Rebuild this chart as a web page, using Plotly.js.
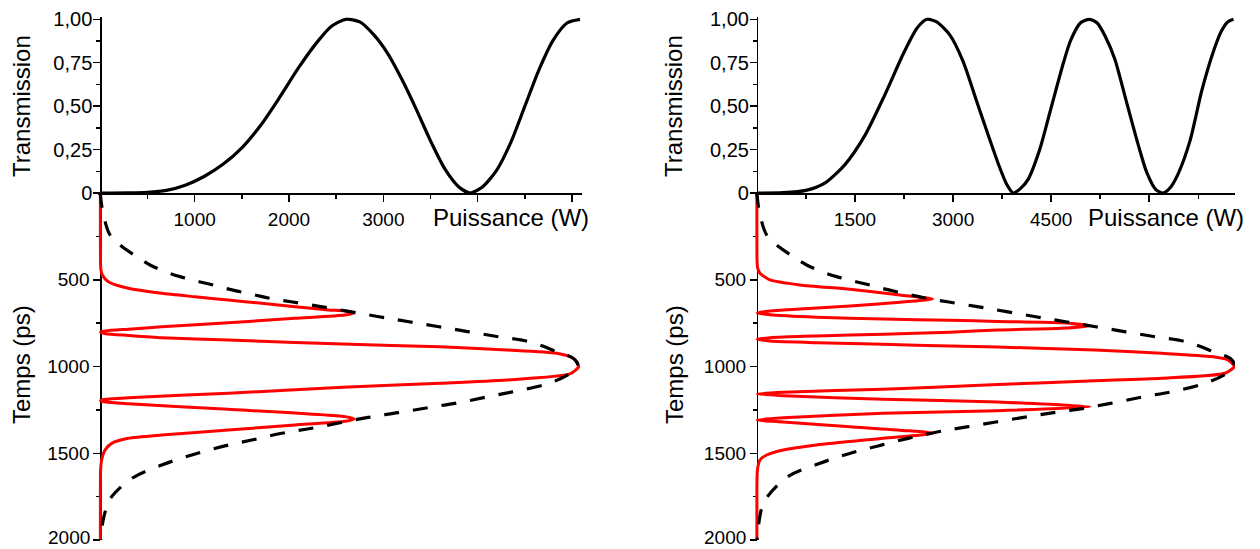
<!DOCTYPE html>
<html>
<head>
<meta charset="utf-8">
<script src="https://cdn.plot.ly/plotly-3.0.1.min.js"></script>
<style>html,body{margin:0;padding:0;background:#fff;}#chart{width:1260px;height:549px;}</style>
</head>
<body>
<div id="chart"></div>
<script>
// ---------- DATA ----------
// Transmission vs power, left panel
const leftTransP = [0,300,500,700,900,1100,1300,1500,1700,1900,2100,2300,2450,2600,2750,2900,3050,3200,3350,3500,3650,3800,3920,4050,4200,4350,4500,4650,4800,4950,5084];
const leftTransT = [0,0.001,0.004,0.015,0.045,0.095,0.165,0.26,0.39,0.55,0.72,0.87,0.96,1.0,0.985,0.91,0.8,0.65,0.48,0.3,0.14,0.035,0,0.035,0.13,0.29,0.5,0.71,0.88,0.98,1.0];
// Transmission vs power, right panel
const rightTransP = [0,400,750,1050,1350,1650,1950,2250,2450,2600,2750,2950,3150,3350,3550,3700,3820,3919,4030,4150,4325,4506,4688,4800,4950,5081,5200,5330,5474,5655,5837,5960,6100,6212,6330,6442,6623,6804,6986,7100,7200,7288];
const rightTransT = [0,0.002,0.015,0.06,0.165,0.33,0.56,0.81,0.95,1.0,0.985,0.91,0.76,0.54,0.32,0.16,0.05,0,0.025,0.08,0.25,0.5,0.75,0.88,0.98,1.0,0.98,0.9,0.77,0.52,0.27,0.12,0.02,0,0.035,0.11,0.3,0.59,0.82,0.93,0.985,1.0];

// Input pulse (dashed), left panel: time (ps) and power (W)
const leftInT = [0,60,130,242,300,367,415,453,482,505,526,549,569,588,607,627,655,713,742,771,800,829,857,915,960,1000,1050,1101,1141,1174,1209,1237,1266,1293,1356,1385,1424,1462,1510,1568,1645,1750,1808,1900,1961,2000];
const leftInP = [0,12,35,103,209,386,527,686,845,1004,1163,1322,1481,1640,1799,2021,2336,2954,3272,3590,3908,4226,4544,4837,5030,5062,4950,4731,4413,4112,3794,3476,3158,2840,2241,1923,1605,1287,969,651,333,121,68,25,12,5];
// Output pulse (red), left panel
const leftOutT = [0,200,400,440,473,511,549,578,598,617,636,655,674,680,692,703,722,748,771,785,795,803,811,821,834,847,861,871,886,905,924,953,1000,1043,1078,1097,1120,1154,1180,1189,1197,1205,1215,1247,1289,1302,1316,1337,1366,1395,1414,1443,1481,1539,1600,1800,2000];
const leftOutP = [0,0,2,6,21,85,297,651,1004,1357,1711,2064,2417,2594,2690,2594,2064,1357,651,297,55,2,55,297,651,1357,2064,2567,3600,4307,4837,5013,5070,4978,4307,3600,2570,1357,297,55,2,55,297,1357,2594,2690,2594,2064,1357,651,297,121,50,14,3,0,0];

// Input pulse (dashed), right panel
const rightInT = [0,60,130,242,300,367,415,453,482,505,526,549,569,588,607,627,655,713,742,771,800,829,857,915,960,1000,1050,1101,1145,1174,1209,1241,1266,1293,1347,1376,1414,1458,1504,1562,1635,1750,1808,1900,1961,2000];
const rightInP = [0,17,50,149,302,557,760,990,1219,1449,1678,1908,2137,2367,2596,2912,3370,4263,4721,5180,5639,6098,6557,6980,7260,7300,7140,6813,6352,5917,5457,4997,4537,4077,3233,2773,2313,1853,1393,933,472,160,80,30,12,4];
// Output pulse (red), right panel
const rightOutT = [0,200,380,430,463,501,530,555,588,611,630,651,669,680,691,702,716,726,734,740,748,765,780,789,803,814,824,834,843,853,863,872,882,888,905,924,943,963,1000,1039,1068,1082,1104,1131,1148,1158,1168,1189,1205,1232,1255,1270,1296,1308,1320,1347,1385,1414,1452,1481,1510,1539,1597,1700,2000];
const rightOutP = [0,0,2,10,47,200,659,1424,2188,2688,2188,1424,659,200,5,200,914,1933,2953,3680,4661,5094,4661,3680,2953,1933,914,200,5,200,914,1933,2953,3680,5170,6191,6955,7209,7300,7159,6191,5170,3680,1933,404,5,404,1933,3680,5094,3680,1933,404,5,404,1424,2688,1933,914,404,150,47,8,0,0];

// Tick labels
const transTickVals = [0,0.25,0.5,0.75,1];
const transTickText = ['0','0,25','0,50','0,75','1,00'];
const transMinor = [0.125,0.375,0.625,0.875];
const timeTickVals = [0,500,1000,1500,2000];
const timeTickText = ['','500','1000','1500','2000'];
const timeMinor = [250,750,1250,1750];
const leftPowTickVals = [0,1000,2000,3000,4000,5000];
const leftPowTickText = ['','1000','2000','3000','',''];
const leftPowMinor = [500,1500,2500,3500,4500];
const rightPowTickVals = [0,1500,3000,4500,6000];
const rightPowTickText = ['','1500','3000','4500',''];
const rightPowMinor = [750,2250,3750,5250,6750];

const titleTrans = 'Transmission';
const titleTime = 'Temps (ps)';
const titlePow = 'Puissance (W)';

// ---------- LAYOUT ----------
const W = 1260, H = 549;
const fx = px => px / W;
const fy = px => (H - px) / H;

const FONT = 'Arial, "Liberation Sans", sans-serif';
const tickFont = {family: FONT, size: 19, color: '#000'};
const transTickFont = {family: FONT, size: 20, color: '#000'};
const titleFont = {family: FONT, size: 24, color: '#000'};

function baseAxis(extra) {
  return Object.assign({
    showline: true, linecolor: '#000', linewidth: 1.5,
    ticks: 'outside', ticklen: 7, tickwidth: 1.5, tickcolor: '#000',
    showgrid: false, zeroline: false, tickfont: tickFont,
    tickmode: 'array', layer: 'below traces', fixedrange: true
  }, extra);
}
function minorAx(vals) {
  return {tickmode: 'array', tickvals: vals, ticks: 'outside', ticklen: 4, tickwidth: 1.5, tickcolor: '#000', showgrid: false};
}

const yAxisPx = 193;          // pixel row of the shared power axis
const topPx = 19.3, botPx = 540;
const tPad = 2.1 / (yAxisPx - topPx); // small range padding so curves at 0 / 1 are not clipped

const L0 = 100.3, Lend = 581.5, Lmax = 5100;  // left panel
const R0 = 756.9, Rend = 1234.9, Rmax = 7310; // right panel
const Lpad = 20, Rpad = 30;
const LpadPx = Lpad * (Lend - L0) / Lmax, RpadPx = Rpad * (Rend - R0) / Rmax;

// the last time label sits on the bottom edge: it is drawn as an annotation kept inside the page
const lastIdx = timeTickText.length - 1;
const timeAxisText = timeTickText.map((t, i) => i === lastIdx ? '' : t);

function endLabel(xpx) {
  return {text: timeTickText[lastIdx], x: fx(xpx), y: 0, xref: 'paper', yref: 'paper', showarrow: false,
    xanchor: 'right', yanchor: 'bottom', borderpad: 0, font: tickFont};
}

const layout = {
  width: W, height: H,
  margin: {l: 0, r: 0, t: 0, b: 0},
  paper_bgcolor: '#fff', plot_bgcolor: 'rgba(0,0,0,0)',
  showlegend: false,
  font: {family: FONT, color: '#000'},
  xaxis: baseAxis({domain: [fx(L0 - LpadPx), fx(Lend)], range: [-Lpad, Lmax], anchor: 'free', position: fy(yAxisPx),
    side: 'bottom', tickvals: leftPowTickVals, ticktext: leftPowTickText, minor: minorAx(leftPowMinor), ticklabelstandoff: 2}),
  yaxis: baseAxis({domain: [fy(yAxisPx + 2.1), fy(topPx - 2.1)], range: [-tPad, 1 + tPad], anchor: 'free', position: fx(L0),
    side: 'left', tickvals: transTickVals, ticktext: transTickText, minor: minorAx(transMinor), tickfont: transTickFont, ticklabelstandoff: -3}),
  yaxis2: baseAxis({domain: [fy(botPx), fy(yAxisPx)], range: [2000, 0], anchor: 'free', position: fx(L0),
    side: 'left', tickvals: timeTickVals, ticktext: timeAxisText, minor: minorAx(timeMinor)}),
  xaxis3: baseAxis({domain: [fx(R0 - RpadPx), fx(Rend)], range: [-Rpad, Rmax], anchor: 'free', position: fy(yAxisPx),
    side: 'bottom', tickvals: rightPowTickVals, ticktext: rightPowTickText, minor: minorAx(rightPowMinor), ticklabelstandoff: 2}),
  yaxis3: baseAxis({domain: [fy(yAxisPx + 2.1), fy(topPx - 2.1)], range: [-tPad, 1 + tPad], anchor: 'free', position: fx(R0),
    side: 'left', tickvals: transTickVals, ticktext: transTickText, minor: minorAx(transMinor), tickfont: transTickFont, ticklabelstandoff: -3}),
  yaxis4: baseAxis({domain: [fy(botPx), fy(yAxisPx)], range: [2000, 0], anchor: 'free', position: fx(R0),
    side: 'left', tickvals: timeTickVals, ticktext: timeAxisText, minor: minorAx(timeMinor)}),
  annotations: [
    {text: titleTrans, x: fx(21), y: fy(106), xref: 'paper', yref: 'paper', textangle: -90, showarrow: false, xanchor: 'center', yanchor: 'middle', font: titleFont},
    {text: titleTime, x: fx(22), y: fy(365), xref: 'paper', yref: 'paper', textangle: -90, showarrow: false, xanchor: 'center', yanchor: 'middle', font: titleFont},
    {text: titlePow, x: fx(511), y: fy(217), xref: 'paper', yref: 'paper', showarrow: false, xanchor: 'center', yanchor: 'middle', font: titleFont},
    {text: titleTrans, x: fx(673), y: fy(106), xref: 'paper', yref: 'paper', textangle: -90, showarrow: false, xanchor: 'center', yanchor: 'middle', font: titleFont},
    {text: titleTime, x: fx(675), y: fy(365), xref: 'paper', yref: 'paper', textangle: -90, showarrow: false, xanchor: 'center', yanchor: 'middle', font: titleFont},
    {text: titlePow, x: fx(1166), y: fy(217), xref: 'paper', yref: 'paper', showarrow: false, xanchor: 'center', yanchor: 'middle', font: titleFont},
    endLabel(L0 - 9.5),
    endLabel(R0 - 9.5)
  ]
};

const blackLine = {color: '#000', width: 3.2, shape: 'spline', smoothing: 0.7};
const redLine = {color: '#ff0000', width: 3, shape: 'spline', smoothing: 0.6};
const dashLine = {color: '#000', width: 3.2, dash: '15px,14px', shape: 'spline', smoothing: 1};

const traces = [
  {x: leftTransP, y: leftTransT, xaxis: 'x', yaxis: 'y', mode: 'lines', line: blackLine, hoverinfo: 'skip'},
  {x: leftOutP, y: leftOutT, xaxis: 'x', yaxis: 'y2', mode: 'lines', line: redLine, hoverinfo: 'skip'},
  {x: leftInP, y: leftInT, xaxis: 'x', yaxis: 'y2', mode: 'lines', line: dashLine, hoverinfo: 'skip'},
  {x: rightTransP, y: rightTransT, xaxis: 'x3', yaxis: 'y3', mode: 'lines', line: blackLine, hoverinfo: 'skip'},
  {x: rightOutP, y: rightOutT, xaxis: 'x3', yaxis: 'y4', mode: 'lines', line: redLine, hoverinfo: 'skip'},
  {x: rightInP, y: rightInT, xaxis: 'x3', yaxis: 'y4', mode: 'lines', line: dashLine, hoverinfo: 'skip'}
];

Plotly.newPlot('chart', traces, layout, {staticPlot: true, displayModeBar: false});
</script>
</body>
</html>
